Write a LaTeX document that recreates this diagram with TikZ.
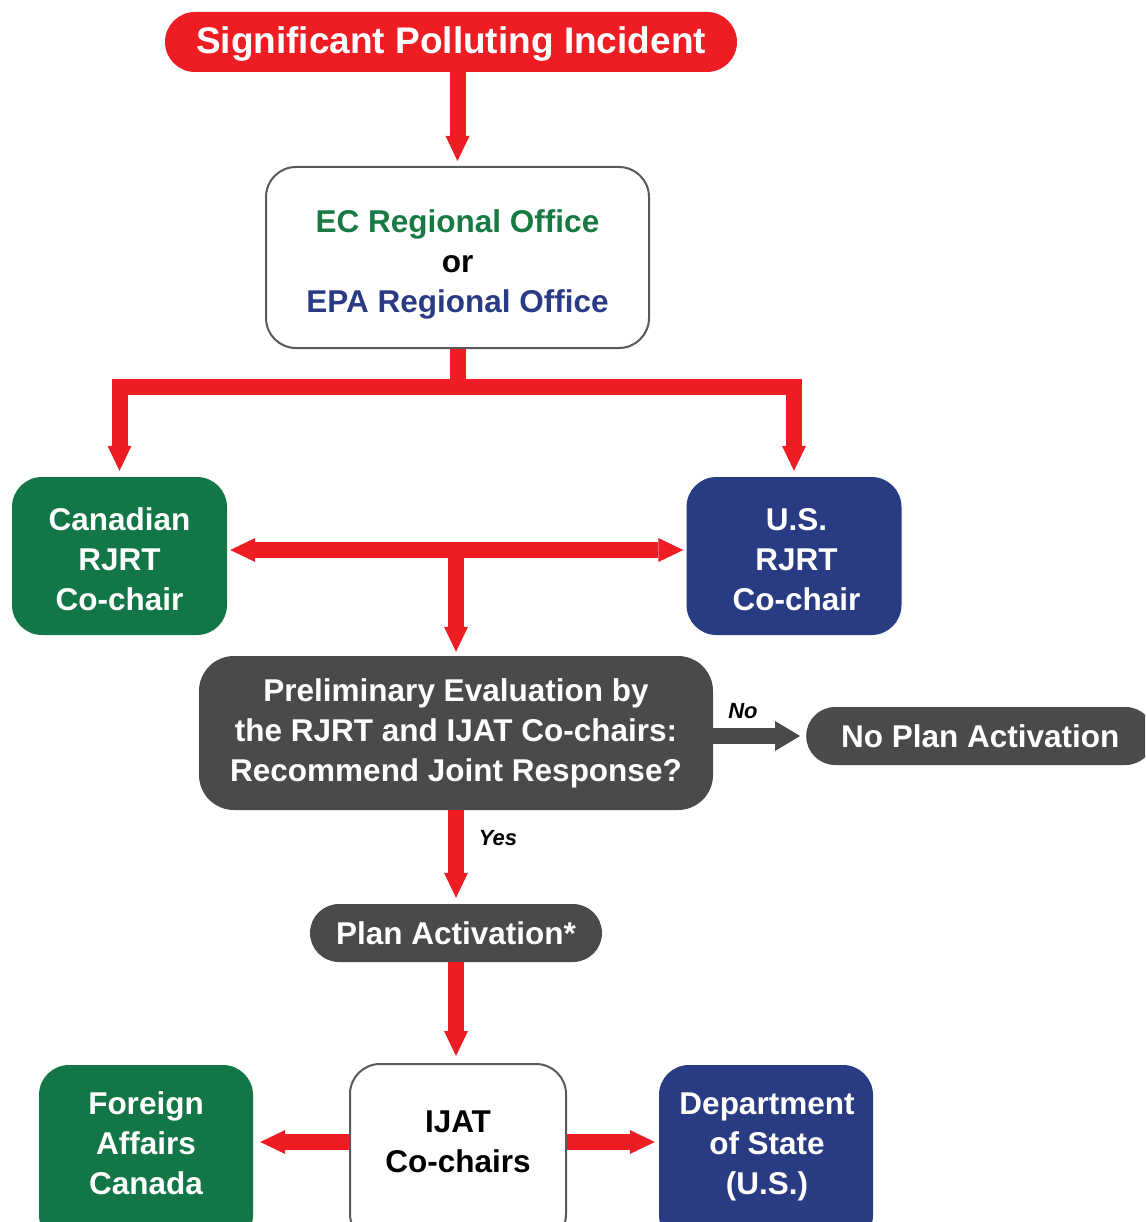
\documentclass[tikz,border=0pt]{standalone}
\usepackage{fontspec}
\setmainfont{Liberation Sans}
\usetikzlibrary{arrows.meta}
\definecolor{cred}{HTML}{EE1D24}
\definecolor{cgreen}{HTML}{127646}
\definecolor{cblue}{HTML}{293B82}
\definecolor{cgray}{HTML}{4A4A4C}
\definecolor{cborder}{HTML}{58595B}
\definecolor{ecgreen}{HTML}{177A43}
\definecolor{epablue}{HTML}{2A3A85}
\tikzset{
  every node/.style={inner sep=0pt},
  txt/.style={font=\bfseries\fontsize{31.5}{40}\selectfont, align=center},
  bigbox/.style={txt, rounded corners=30pt, minimum width=215pt, minimum height=158pt, text=white},
  greenbox/.style={bigbox, fill=cgreen},
  bluebox/.style={bigbox, fill=cblue},
  whitebox/.style={txt, rounded corners=30pt, draw=cborder, line width=2pt, fill=white, text=black},
  graybox/.style={txt, fill=cgray, text=white},
  pill/.style={graybox, rounded corners=29pt, minimum height=58pt},
  yesno/.style={font=\bfseries\itshape\fontsize{22}{24}\selectfont, text=black},
  redline/.style={draw=cred, line width=16pt},
  redarr/.style={redline, -{Triangle[width=24pt,length=25pt,line width=0pt]}},
  redboth/.style={redline, {Triangle[width=24pt,length=25pt,line width=0pt]}-{Triangle[width=24pt,length=25pt,line width=0pt]}},
  grayarr/.style={draw=cgray, line width=16pt, -{Triangle[width=30pt,length=25pt,line width=0pt]}}
}
\begin{document}
\begin{tikzpicture}[x=1pt,y=-1pt]
\path[use as bounding box] (0,0) rectangle (1145,1222);
\clip (0,0) rectangle (1145,1222);

% nodes
\node[txt, fill=cred, text=white, rounded corners=30pt, minimum width=572pt, minimum height=60pt,
      font=\bfseries\fontsize{37}{40}\selectfont, text depth=4pt] (title) at (451,42) {Significant Polluting Incident};
\node[whitebox, minimum width=383pt, minimum height=181pt] (ec) at (457.5,257.5) {};
\node[txt] (ect) at (457.5,264) {{\color{ecgreen}EC Regional Office}\\or\\{\color{epablue}EPA Regional Office}};
\node[greenbox] (can) at (119.5,556) {};
\node[txt, text=white] (cant) at (119.5,559.5) {Canadian\\RJRT\\Co-chair};
\node[bluebox] (us) at (794,556) {};
\node[txt, text=white] (ust) at (796.5,559.5) {U.S.\\RJRT\\Co-chair};
\node[graybox, rounded corners=35pt, minimum width=514pt, minimum height=154pt] (prelim) at (456,733)
  {Preliminary Evaluation by\\the RJRT and IJAT Co-chairs:\\Recommend Joint Response?};
\node[pill, anchor=west, inner xsep=35pt] (noplan) at (806,736) {No Plan Activation};
\node[pill, minimum width=292pt] (plan) at (456,933) {Plan Activation*};

\node[whitebox, minimum width=216pt, minimum height=180pt] (ijat) at (458,1154) {};
\node[txt, text=black] (ijatt) at (458,1142) {IJAT\\Co-chairs};
\node[greenbox, minimum width=214pt, minimum height=180pt] (fa) at (146,1155) {};
\node[txt, text=white] (fat) at (146,1143) {Foreign\\Affairs\\Canada};
\node[bluebox, minimum width=214pt, minimum height=180pt] (dos) at (766,1155) {};
\node[txt, text=white] (dost) at (767,1147) {Department\\of State\\(U.S.)};

\node[yesno] (nolbl) at (743,711) {No};
\node[yesno] (yeslbl) at (498,838) {Yes};

% connectors
\draw[redarr, shorten >=5pt] (title.south -| ec.north) -- (ec.north);
\coordinate (bar) at (457.5,387);
\draw[redline] (ec.south) -- (bar);
\draw[redarr, line join=miter, shorten >=6pt] (bar) -| (can.north);
\draw[redarr, line join=miter, shorten >=6pt] (bar) -| (us.north);
\coordinate (mid) at (456,550);
\draw[redboth, shorten <=3pt, shorten >=3pt] (mid -| can.east) -- (mid -| us.west);
\draw[redarr, shorten >=4pt] (mid) -- (prelim.north);
\draw[grayarr, shorten >=6pt] (prelim.east |- noplan.west) -- (noplan.west);
\draw[redarr, shorten >=6pt] (prelim.south) -- (plan.north);
\draw[redarr, shorten >=7pt] (plan.south) -- (plan.south |- ijat.north);
\draw[redarr, shorten >=7pt] (ijatt -| ijat.west) -- (ijatt -| fa.east);
\draw[redarr, shorten >=4pt] (ijatt -| ijat.east) -- (ijatt -| dos.west);
\end{tikzpicture}
\end{document}
